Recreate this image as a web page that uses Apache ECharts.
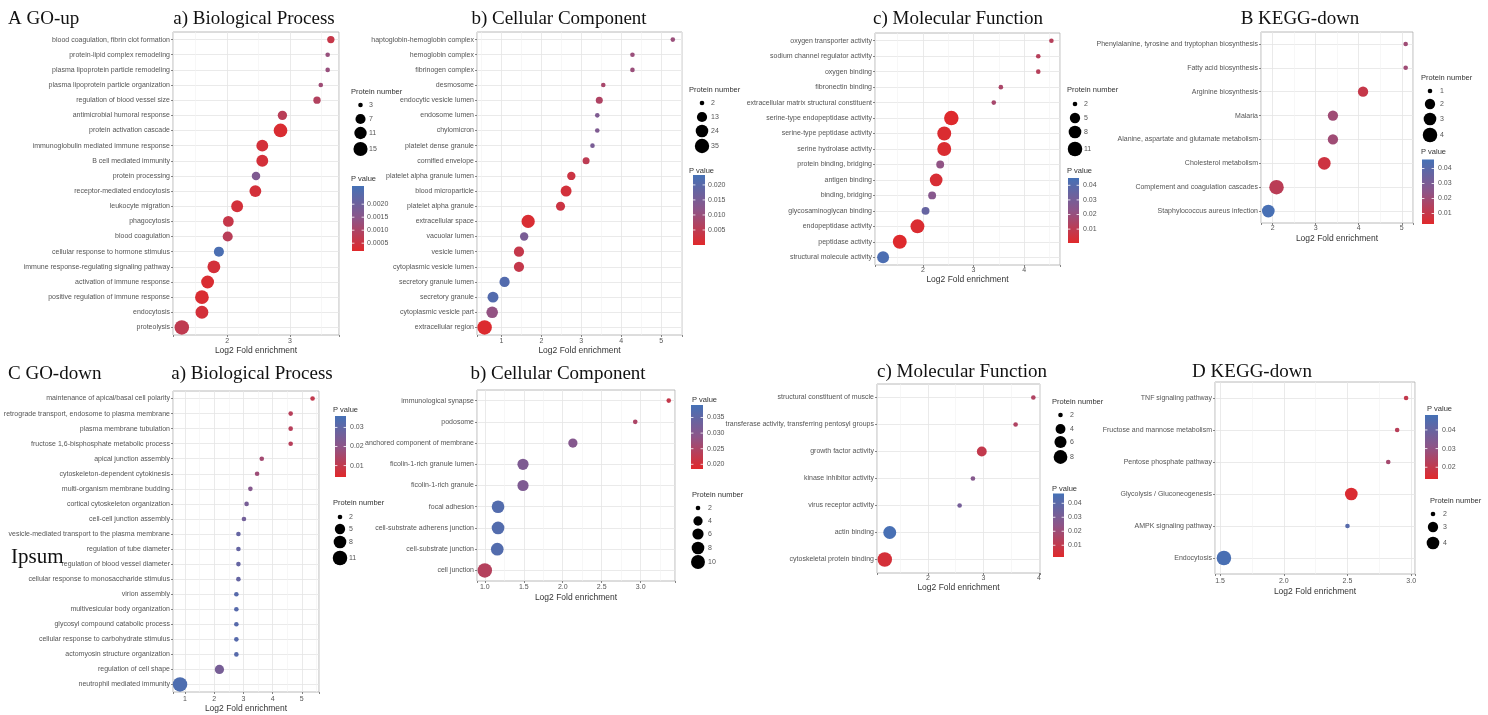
<!DOCTYPE html>
<html><head><meta charset="utf-8">
<script src="https://cdn.jsdelivr.net/npm/echarts@6/dist/echarts.min.js"></script>
<style>html,body{margin:0;padding:0;background:#fff}#c{width:1488px;height:715px}</style>
</head><body><div id="c"></div>
<script>
// ---------- A GO-up : a) Biological Process ----------
const upBpTerms = ["blood coagulation, fibrin clot formation","protein-lipid complex remodeling","plasma lipoprotein particle remodeling","plasma lipoprotein particle organization","regulation of blood vessel size","antimicrobial humoral response","protein activation cascade","immunoglobulin mediated immune response","B cell mediated immunity","protein processing","receptor-mediated endocytosis","leukocyte migration","phagocytosis","blood coagulation","cellular response to hormone stimulus","immune response-regulating signaling pathway","activation of immune response","positive regulation of immune response","endocytosis","proteolysis"];
const upBpFold = [3.65,3.60,3.60,3.49,3.43,2.88,2.85,2.56,2.56,2.46,2.45,2.16,2.02,2.01,1.87,1.79,1.69,1.60,1.60,1.28];
const upBpCount = [4,3,3,3,4,6,14,10,10,5,10,10,8,7,7,12,12,14,12,16];
const upBpP = [0.0006,0.0013,0.0013,0.0012,0.0009,0.0008,0.0003,0.0004,0.0004,0.0017,0.0004,0.0004,0.0006,0.0008,0.0026,0.0004,0.0003,0.0003,0.0004,0.0007];
const upBpSizeBreaks = [3,7,11,15];
const upBpPBreaks = [0.0020,0.0015,0.0010,0.0005];

// ---------- A GO-up : b) Cellular Component ----------
const upCcTerms = ["haptoglobin-hemoglobin complex","hemoglobin complex","fibrinogen complex","desmosome","endocytic vesicle lumen","endosome lumen","chylomicron","platelet dense granule","cornified envelope","platelet alpha granule lumen","blood microparticle","platelet alpha granule","extracellular space","vacuolar lumen","vesicle lumen","cytoplasmic vesicle lumen","secretory granule lumen","secretory granule","cytoplasmic vesicle part","extracellular region"];
const upCcFold = [5.29,4.28,4.28,3.55,3.45,3.40,3.40,3.28,3.12,2.75,2.62,2.48,1.67,1.57,1.44,1.44,1.08,0.79,0.77,0.58];
const upCcCount = [2,2,2,2,4,2,2,2,4,7,16,9,28,7,13,13,13,16,19,36];
const upCcP = [0.010,0.010,0.010,0.008,0.007,0.014,0.014,0.015,0.005,0.003,0.002,0.003,0.001,0.015,0.004,0.004,0.021,0.021,0.011,0.0005];
const upCcSizeBreaks = [2,13,24,35];
const upCcPBreaks = [0.020,0.015,0.010,0.005];

// ---------- A GO-up : c) Molecular Function ----------
const upMfTerms = ["oxygen transporter activity","sodium channel regulator activity","oxygen binding","fibronectin binding","extracellular matrix structural constituent","serine-type endopeptidase activity","serine-type peptidase activity","serine hydrolase activity","protein binding, bridging","antigen binding","binding, bridging","glycosaminoglycan binding","endopeptidase activity","peptidase activity","structural molecule activity"];
const upMfFold = [4.54,4.28,4.28,3.54,3.40,2.56,2.42,2.42,2.34,2.26,2.18,2.05,1.89,1.54,1.21];
const upMfCount = [2,2,2,2,2,11,10,10,3,8,3,3,10,10,7];
const upMfP = [0.012,0.012,0.012,0.015,0.016,0.001,0.002,0.002,0.022,0.003,0.025,0.035,0.002,0.001,0.043];
const upMfSizeBreaks = [2,5,8,11];
const upMfPBreaks = [0.04,0.03,0.02,0.01];

// ---------- B KEGG ----------
const upKeggTerms = ["Phenylalanine, tyrosine and tryptophan biosynthesis","Fatty acid biosynthesis","Arginine biosynthesis","Malaria","Alanine, aspartate and glutamate metabolism","Cholesterol metabolism","Complement and coagulation cascades","Staphylococcus aureus infection"];
const upKeggFold = [5.09,5.09,4.10,3.40,3.40,3.20,2.09,1.90];
const upKeggCount = [1,1,2,2,2,3,4,3];
const upKeggP = [0.020,0.020,0.010,0.020,0.020,0.008,0.013,0.045];
const upKeggSizeBreaks = [1,2,3,4];
const upKeggPBreaks = [0.04,0.03,0.02,0.01];

// ---------- C GO-down : a) Biological Process ----------
const downBpTerms = ["maintenance of apical/basal cell polarity","retrograde transport, endosome to plasma membrane","plasma membrane tubulation","fructose 1,6-bisphosphate metabolic process","apical junction assembly","cytoskeleton-dependent cytokinesis","multi-organism membrane budding","cortical cytoskeleton organization","cell-cell junction assembly","vesicle-mediated transport to the plasma membrane","regulation of tube diameter","regulation of blood vessel diameter","cellular response to monosaccharide stimulus","virion assembly","multivesicular body organization","glycosyl compound catabolic process","cellular response to carbohydrate stimulus","actomyosin structure organization","regulation of cell shape","neutrophil mediated immunity"];
const downBpFold = [5.37,4.62,4.62,4.62,3.63,3.47,3.24,3.11,3.02,2.83,2.83,2.83,2.83,2.76,2.76,2.76,2.76,2.76,2.18,0.83];
const downBpCount = [2,2,2,2,2,2,2,2,2,2,2,2,2,2,2,2,2,2,4,11];
const downBpP = [0.010,0.012,0.012,0.012,0.016,0.017,0.022,0.025,0.026,0.029,0.029,0.029,0.029,0.032,0.032,0.032,0.032,0.032,0.025,0.034];
const downBpSizeBreaks = [2,5,8,11];
const downBpPBreaks = [0.03,0.02,0.01];

// ---------- C GO-down : b) Cellular Component ----------
const downCcTerms = ["immunological synapse","podosome","anchored component of membrane","ficolin-1-rich granule lumen","ficolin-1-rich granule","focal adhesion","cell-substrate adherens junction","cell-substrate junction","cell junction"];
const downCcFold = [3.36,2.93,2.13,1.49,1.49,1.17,1.17,1.16,1.00];
const downCcCount = [2,2,4,6,6,8,8,8,11];
const downCcP = [0.022,0.025,0.030,0.031,0.031,0.037,0.037,0.037,0.024];
const downCcSizeBreaks = [2,4,6,8,10];
const downCcPBreaks = [0.035,0.030,0.025,0.020];

// ---------- C GO-down : c) Molecular Function ----------
const downMfTerms = ["structural constituent of muscle","transferase activity, transferring pentosyl groups","growth factor activity","kinase inhibitor activity","virus receptor activity","actin binding","cytoskeletal protein binding"];
const downMfFold = [3.90,3.58,2.97,2.81,2.57,1.31,1.22];
const downMfCount = [2,2,4,2,2,7,9];
const downMfP = [0.015,0.015,0.010,0.027,0.032,0.046,0.005];
const downMfSizeBreaks = [2,4,6,8];
const downMfPBreaks = [0.04,0.03,0.02,0.01];

// ---------- D KEGG-down ----------
const downKeggTerms = ["TNF signaling pathway","Fructose and mannose metabolism","Pentose phosphate pathway","Glycolysis / Gluconeogenesis","AMPK signaling pathway","Endocytosis"];
const downKeggFold = [2.96,2.89,2.82,2.53,2.50,1.53];
const downKeggCount = [2,2,2,4,2,5];
const downKeggP = [0.020,0.022,0.026,0.015,0.044,0.047];
const downKeggSizeBreaks = [2,3,4];
const downKeggPBreaks = [0.04,0.03,0.02];

const headings = ["A GO-up","a) Biological Process","b) Cellular Component","c) Molecular Function","B KEGG-down","C GO-down","a) Biological Process","b) Cellular Component","c) Molecular Function","D KEGG-down","Ipsum"];

// ---------- styling / layout ----------
const RED = '#e0292b', MID = '#8e5588', BLUE = '#4571b6';
const FONT = '"Liberation Sans", Arial, sans-serif';
const SERIF = '"Liberation Serif", "Times New Roman", serif';
const D_MIN = 4.6, D_MAX = 14.5;

function sizeOf(v, dom) {
  const t = Math.max(0, Math.min(1, (v - dom[0]) / (dom[1] - dom[0])));
  return D_MIN + (D_MAX - D_MIN) * Math.sqrt(t);
}

const panels = [
  {terms: upBpTerms, fold: upBpFold, count: upBpCount, p: upBpP, sizeBreaks: upBpSizeBreaks, pBreaks: upBpPBreaks, pDigits: 4,
   grid: {left: 173, top: 32, width: 166, height: 303}, xMin: 1.14, xMax: 3.78, step: 1, split: 3, labelMargin: 3, nameGap: 10,
   sizeDom: [3, 16], pDom: [0.0002, 0.0027],
   sizeLeg: {x: 351, y: 92, ys: [105, 119, 133, 149], cx: 360.5, lx: 369},
   pLeg: {x: 351, y: 179, barX: 352, barW: 12, barTop: 186, barBot: 251, lx: 367}},
  {terms: upCcTerms, fold: upCcFold, count: upCcCount, p: upCcP, sizeBreaks: upCcSizeBreaks, pBreaks: upCcPBreaks, pDigits: 3,
   grid: {left: 477, top: 32, width: 205, height: 303}, xMin: 0.39, xMax: 5.52, step: 1, split: 5, labelMargin: 3, nameGap: 9,
   sizeDom: [2, 36], pDom: [0, 0.0233],
   sizeLeg: {x: 689, y: 90, ys: [103, 117, 131, 146], cx: 702, lx: 711},
   pLeg: {x: 689, y: 171, barX: 693, barW: 12, barTop: 175, barBot: 245, lx: 708}},
  {terms: upMfTerms, fold: upMfFold, count: upMfCount, p: upMfP, sizeBreaks: upMfSizeBreaks, pBreaks: upMfPBreaks, pDigits: 2,
   grid: {left: 875, top: 33, width: 185, height: 232}, xMin: 1.05, xMax: 4.71, step: 1, split: 4, labelMargin: 2, nameGap: 9,
   sizeDom: [2, 11], pDom: [0.0005, 0.045],
   sizeLeg: {x: 1067, y: 89.5, ys: [104, 118, 132, 149], cx: 1075, lx: 1084},
   pLeg: {x: 1067, y: 171, barX: 1068, barW: 11, barTop: 178, barBot: 243, lx: 1083}},
  {terms: upKeggTerms, fold: upKeggFold, count: upKeggCount, p: upKeggP, sizeBreaks: upKeggSizeBreaks, pBreaks: upKeggPBreaks, pDigits: 2,
   grid: {left: 1261, top: 32, width: 152, height: 191}, xMin: 1.73, xMax: 5.26, step: 1, split: 4, labelMargin: 2, nameGap: 11,
   sizeDom: [1, 4], pDom: [0.003, 0.046],
   sizeLeg: {x: 1421, y: 78, ys: [91, 104, 119, 135], cx: 1430, lx: 1440},
   pLeg: {x: 1421, y: 152, barX: 1422, barW: 12, barTop: 159.5, barBot: 224, lx: 1438}},
  {terms: downBpTerms, fold: downBpFold, count: downBpCount, p: downBpP, sizeBreaks: downBpSizeBreaks, pBreaks: downBpPBreaks, pDigits: 2,
   grid: {left: 173, top: 391, width: 146, height: 301}, xMin: 0.59, xMax: 5.59, step: 1, split: 5, labelMargin: 4, nameGap: 12,
   sizeDom: [2, 11], pDom: [0.004, 0.036],
   sizeLeg: {x: 333, y: 503, ys: [517, 529, 542, 558], cx: 340, lx: 349},
   pLeg: {x: 333, y: 410, barX: 335, barW: 11, barTop: 416, barBot: 477, lx: 350}},
  {terms: downCcTerms, fold: downCcFold, count: downCcCount, p: downCcP, sizeBreaks: downCcSizeBreaks, pBreaks: downCcPBreaks, pDigits: 3,
   grid: {left: 477, top: 390, width: 198, height: 191}, xMin: 0.90, xMax: 3.44, step: 0.5, split: 5, labelMargin: 3, nameGap: 12,
   sizeDom: [2, 11], pDom: [0.0185, 0.039],
   sizeLeg: {x: 692, y: 495, ys: [508, 521, 534, 548, 562], cx: 698, lx: 708},
   pLeg: {x: 692, y: 400, barX: 691, barW: 12, barTop: 405, barBot: 469, lx: 707}},
  {terms: downMfTerms, fold: downMfFold, count: downMfCount, p: downMfP, sizeBreaks: downMfSizeBreaks, pBreaks: downMfPBreaks, pDigits: 2,
   grid: {left: 877, top: 384, width: 163, height: 189}, xMin: 1.08, xMax: 4.02, step: 1, split: 3, labelMargin: 2, nameGap: 9,
   sizeDom: [2, 9], pDom: [0.0016, 0.047],
   sizeLeg: {x: 1052, y: 402, ys: [415, 429, 442, 457], cx: 1060.5, lx: 1070},
   pLeg: {x: 1052, y: 489, barX: 1053, barW: 11, barTop: 493.5, barBot: 557, lx: 1068}},
  {terms: downKeggTerms, fold: downKeggFold, count: downKeggCount, p: downKeggP, sizeBreaks: downKeggSizeBreaks, pBreaks: downKeggPBreaks, pDigits: 2,
   grid: {left: 1215, top: 382, width: 200, height: 192}, xMin: 1.46, xMax: 3.03, step: 0.5, split: 3, labelMargin: 4, nameGap: 13,
   sizeDom: [2, 5], pDom: [0.0137, 0.048],
   sizeLeg: {x: 1430, y: 501, ys: [514, 527, 543], cx: 1433, lx: 1443},
   pLeg: {x: 1427, y: 408.5, barX: 1425, barW: 13, barTop: 415, barBot: 479, lx: 1442}}
];

const headingPos = [
  {x: 8, y: 19.5, a: 'left', fs: 19}, {x: 254, y: 19.5, a: 'center', fs: 19}, {x: 559, y: 19.5, a: 'center', fs: 19},
  {x: 958, y: 19.5, a: 'center', fs: 19}, {x: 1300, y: 19.5, a: 'center', fs: 19},
  {x: 8, y: 374, a: 'left', fs: 19}, {x: 252, y: 374, a: 'center', fs: 19}, {x: 558, y: 374, a: 'center', fs: 19},
  {x: 962, y: 372.5, a: 'center', fs: 19}, {x: 1252, y: 372.5, a: 'center', fs: 19},
  {x: 11, y: 557, a: 'left', fs: 21}
];

function onStep(v, s) { return Math.abs(v / s - Math.round(v / s)) < 1e-6; }
function fmtTick(v, s) { return s < 1 ? v.toFixed(1) : String(Math.round(v)); }

function txt(x, y, text, fs, fill, align, family) {
  return {type: 'text', x: x, y: y, silent: true, z: 10,
    style: {text: text, fontSize: fs, fontFamily: family || FONT, fill: fill,
      align: align || 'left', verticalAlign: 'middle', textAlign: align || 'left', textVerticalAlign: 'middle'}};
}

const grids = [], xAxes = [], yAxes = [], series = [], visualMaps = [], graphics = [];

panels.forEach(function (P, i) {
  grids.push({left: P.grid.left, top: P.grid.top, width: P.grid.width, height: P.grid.height,
    show: true, borderColor: '#a8a8a8', borderWidth: 0.8, backgroundColor: '#fff'});
  xAxes.push({type: 'value', gridIndex: i, min: P.xMin, max: P.xMax, minInterval: P.step, maxInterval: P.step,
    splitNumber: P.split, name: 'Log2 Fold enrichment', nameLocation: 'middle', nameGap: P.nameGap,
    nameTextStyle: {fontSize: 8.5, color: '#333', fontFamily: FONT},
    axisLine: {show: false},
    axisTick: {show: true, length: 2, lineStyle: {color: '#666', width: 0.8}},
    axisLabel: {fontSize: 7, color: '#555', fontFamily: FONT, margin: P.labelMargin,
      formatter: function (v) { return onStep(v, P.step) ? fmtTick(v, P.step) : ''; }},
    splitLine: {show: true, lineStyle: {color: '#e4e4e4', width: 0.8}}});
  yAxes.push({type: 'category', gridIndex: i, data: P.terms, inverse: true,
    axisLine: {show: false},
    axisTick: {show: true, alignWithLabel: true, length: 2, lineStyle: {color: '#666', width: 0.8}},
    axisLabel: {interval: 0, fontSize: 7, color: '#555', fontFamily: FONT, margin: 3},
    splitLine: {show: false}});

  const minor = [];
  for (let v = Math.floor(P.xMin / P.step) * P.step + P.step / 2; v < P.xMax; v += P.step) {
    if (v > P.xMin) minor.push(+v.toFixed(4));
  }
  series.push({type: 'scatter', xAxisIndex: i, yAxisIndex: i, data: [], silent: true, z: 1, animation: false,
    markLine: {silent: true, z: 1, symbol: ['none', 'none'], animation: false, label: {show: false},
      lineStyle: {color: '#e4e4e4', width: 0.8, type: 'solid'},
      data: P.terms.map(function (t) { return {yAxis: t}; }).concat(
        minor.map(function (v) { return {xAxis: v, lineStyle: {color: '#f1f1f1', width: 0.6, type: 'solid'}}; }))}});

  const data = P.terms.map(function (t, j) { return [P.fold[j], j, P.p[j], P.count[j]]; });
  series.push({type: 'scatter', xAxisIndex: i, yAxisIndex: i, data: data, z: 8, animation: false,
    symbolSize: function (v) { return sizeOf(v[3], P.sizeDom); },
    itemStyle: {opacity: 1}});
  visualMaps.push({type: 'continuous', show: false, seriesIndex: series.length - 1, dimension: 2,
    min: P.pDom[0], max: P.pDom[1], inRange: {color: [RED, MID, BLUE]}});

  // size legend
  const S = P.sizeLeg;
  graphics.push(txt(S.x, S.y, 'Protein number', 7.5, '#333'));
  P.sizeBreaks.forEach(function (b, k) {
    graphics.push({type: 'circle', silent: true, z: 10, shape: {cx: S.cx, cy: S.ys[k], r: sizeOf(b, P.sizeDom) / 2}, style: {fill: '#000'}});
    graphics.push(txt(S.lx, S.ys[k], String(b), 7, '#555'));
  });
  // colour bar legend
  const L = P.pLeg;
  graphics.push(txt(L.x, L.y, 'P value', 7.5, '#333'));
  graphics.push({type: 'rect', silent: true, z: 10, shape: {x: L.barX, y: L.barTop, width: L.barW, height: L.barBot - L.barTop},
    style: {fill: {type: 'linear', x: 0, y: 0, x2: 0, y2: 1, colorStops: [{offset: 0, color: BLUE}, {offset: 0.5, color: MID}, {offset: 1, color: RED}]}}});
  P.pBreaks.forEach(function (b) {
    const y = L.barBot - (b - P.pDom[0]) / (P.pDom[1] - P.pDom[0]) * (L.barBot - L.barTop);
    graphics.push({type: 'line', silent: true, z: 11, shape: {x1: L.barX, y1: y, x2: L.barX + 2.4, y2: y}, style: {stroke: '#fff', lineWidth: 0.8}});
    graphics.push({type: 'line', silent: true, z: 11, shape: {x1: L.barX + L.barW - 2.4, y1: y, x2: L.barX + L.barW, y2: y}, style: {stroke: '#fff', lineWidth: 0.8}});
    graphics.push(txt(L.lx, y, b.toFixed(P.pDigits), 7, '#555'));
  });
});

headings.forEach(function (h, k) {
  const hp = headingPos[k];
  graphics.push(txt(hp.x, hp.y, h, hp.fs, '#111', hp.a, SERIF));
});

const chart = echarts.init(document.getElementById('c'), null, {renderer: 'canvas'});
chart.setOption({
  animation: false,
  backgroundColor: '#fff',
  grid: grids, xAxis: xAxes, yAxis: yAxes, series: series, visualMap: visualMaps,
  graphic: {elements: graphics}
});
</script>
</body></html>
